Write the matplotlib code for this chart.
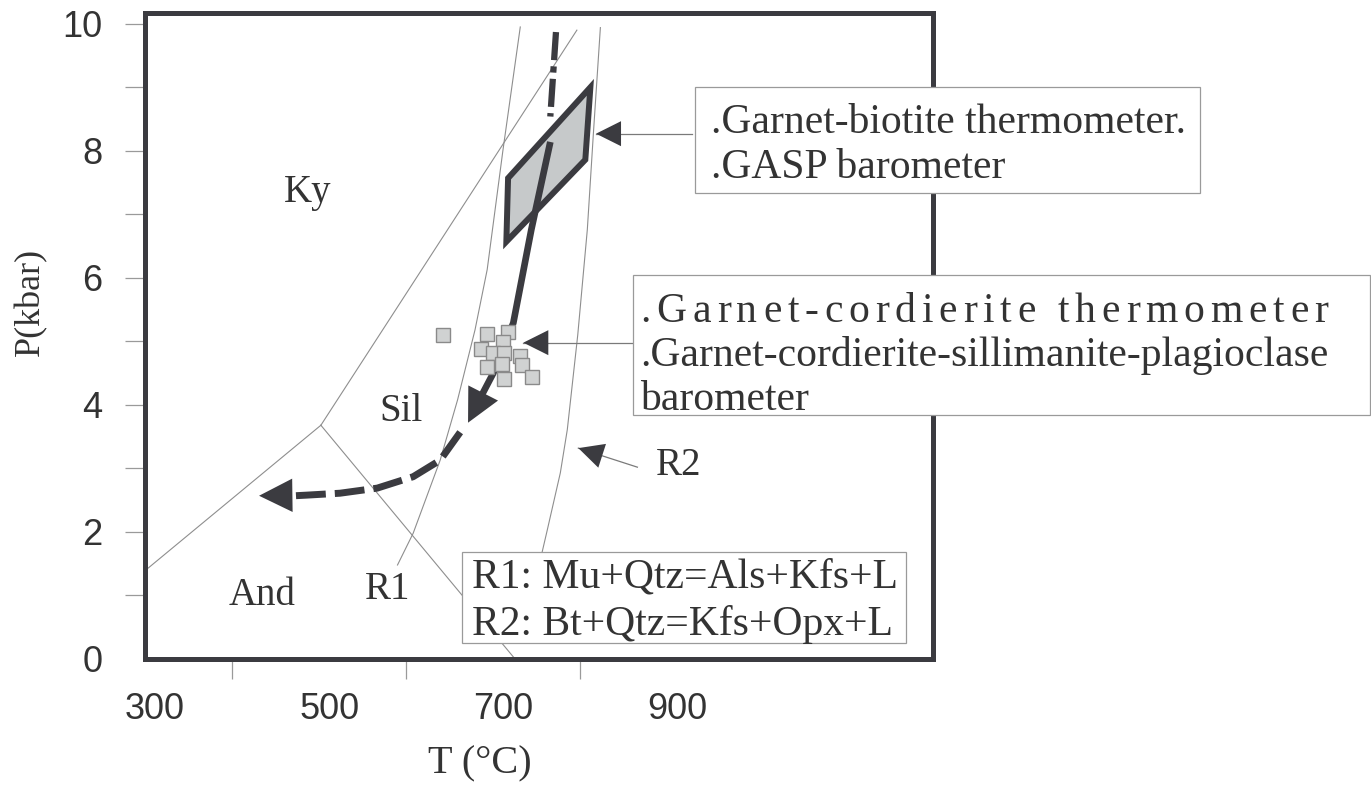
import numpy as np
import matplotlib
matplotlib.use('Agg')
import matplotlib.pyplot as plt
from matplotlib.patches import Polygon, Rectangle
from matplotlib.transforms import ScaledTranslation
from matplotlib import font_manager
from matplotlib.ft2font import FT2Font

# ---- data (T in degC, P in kbar) ----
# Al2SiO5 phase boundaries
ky_and_T = [300, 502]
ky_and_P = [1.39, 3.68]
ky_sil_T = [502, 796]
ky_sil_P = [3.68, 9.90]
and_sil_T = [502, 725]
and_sil_P = [3.68, 0.00]

# reaction curves
r1_T = [590, 608, 639, 659, 679, 693, 711, 731]
r1_P = [1.48, 1.98, 3.13, 4.08, 5.18, 6.13, 8.00, 9.95]
r2_T = [753, 762, 777, 785, 797, 808, 815, 823]
r2_P = [1.50, 2.03, 2.93, 3.61, 5.10, 6.76, 8.28, 9.94]

# P-T path
path_top_T = [772, 765.5]
path_top_P = [9.87, 8.54]
path_mid_T = [765.5, 743.7, 723, 700, 687]
path_mid_P = [8.14, 6.76, 5.29, 4.50, 4.16]
path_low_T = [662, 639, 608, 566.7, 524, 486, 472]
path_low_P = [3.57, 3.13, 2.87, 2.69, 2.61, 2.58, 2.57]
arrow1_tip = (671, 3.72)
arrow2_tip = (431, 2.57)

# garnet-biotite / GASP field
gb_T = [715, 717, 811.5, 805.7]
gb_P = [6.57, 7.57, 9.00, 7.86]

# garnet-cordierite estimates
gc_T = [642.5, 693, 717, 711.5, 686, 700, 712.6, 731, 693, 710, 733, 712.6, 745]
gc_P = [5.10, 5.12, 5.15, 4.99, 4.88, 4.82, 4.82, 4.77, 4.60, 4.65, 4.63, 4.41, 4.44]

x_ticks = [300, 500, 700, 900]
x_minor = [400, 500, 600, 700, 800, 900]
y_ticks = [0, 2, 4, 6, 8, 10]
y_minor = [1, 3, 5, 7, 9]

dark = '#3b3b40'
thin = '#8e8e8e'
txt = '#333333'
serif = ['Liberation Serif', 'DejaVu Serif']
sans = ['Liberation Sans', 'DejaVu Sans']

fig = plt.figure(figsize=(13.71, 7.89), dpi=100)
ax = fig.add_axes([0.10576, 0.16477, 0.57476, 0.81876])
ax.set_xlim(300, 1205)
ax.set_ylim(0, 10.17)

for s in ax.spines.values():
    s.set_linewidth(3.6)
    s.set_color(dark)
    s.set_capstyle('projecting')

ax.set_xticks(x_ticks)
ax.set_xticklabels([str(v) for v in x_ticks], fontfamily=sans, fontsize=26, color=txt)
ax.set_xticks(x_minor, minor=True)
ax.tick_params(axis='x', which='major', length=0, pad=24)
ax.tick_params(axis='x', which='minor', length=14.5, width=0.9, color='#9a9a9a')
for lab in ax.get_xticklabels():
    lab.set_transform(lab.get_transform() + ScaledTranslation(0.1, 0, fig.dpi_scale_trans))
ax.set_yticks(y_ticks)
ax.set_yticklabels([str(v) for v in y_ticks], fontfamily=sans, fontsize=26, color=txt)
ax.set_yticks(y_minor, minor=True)
ax.tick_params(axis='y', which='both', length=14.5, width=0.9, color='#9a9a9a', pad=16)
ax.yaxis.get_major_ticks()[0].tick1line.set_visible(False)

ax.set_xlabel('T (°C)', fontfamily=serif, fontsize=29, color=txt)
ax.xaxis.set_label_coords(0.425, -0.133)
ax.set_ylabel('P(kbar)', fontfamily=serif, fontsize=26, color=txt)
ax.yaxis.set_label_coords(-0.124, 0.553)

# phase boundaries and reactions
for T, P in [(ky_and_T, ky_and_P), (ky_sil_T, ky_sil_P), (and_sil_T, and_sil_P),
             (r1_T, r1_P), (r2_T, r2_P)]:
    ax.plot(T, P, color=thin, lw=0.8, zorder=1)

# GB-GASP field
ax.add_patch(Polygon(np.column_stack([gb_T, gb_P]), closed=True, facecolor='#c6c9ca',
                     edgecolor=dark, lw=4.3, joinstyle='miter', zorder=3))

# P-T path
ax.plot(path_top_T, path_top_P, color=dark, lw=4.5, ls=(0, (4.5, 1.0, 1.0, 1.0)),
        solid_capstyle='butt', zorder=4)
ax.plot(path_mid_T, path_mid_P, color=dark, lw=4.8, solid_capstyle='butt', zorder=4)
ax.plot(path_low_T, path_low_P, color=dark, lw=5, ls=(0, (4.3, 1.3)), zorder=4)
head = dict(arrowstyle='-|>,head_length=0.6,head_width=0.3', mutation_scale=40,
            color=dark, lw=0, shrinkA=0, shrinkB=0)
ax.annotate('', xy=arrow1_tip, xytext=(path_mid_T[-2], path_mid_P[-2]), arrowprops=head, zorder=5)
ax.annotate('', xy=arrow2_tip, xytext=(path_low_T[-2], path_low_P[-2]), arrowprops=head, zorder=5)

# garnet-cordierite points
ax.plot(gc_T, gc_P, 's', ms=10, mfc='#d0d2d2', mec='#8a8a8a', mew=1, zorder=6)

# region labels
for s, T, P in [('Ky', 487, 7.34), ('Sil', 594, 3.89), ('And', 434.5, 1.0),
                ('R1', 579, 1.10), ('R2', 912.6, 3.04)]:
    ax.text(T, P, s, fontfamily=serif, fontsize=28, color=txt, ha='center', va='center')

# pointer arrows
small = dict(arrowstyle='-|>,head_length=0.9,head_width=0.45', mutation_scale=20,
             color=dark, lw=0, shrinkA=0, shrinkB=0)
for tail, tip in [((928.7, 8.27), (818, 8.27)), ((860, 4.98), (734.5, 4.98)),
                  ((865.5, 3.02), (797.7, 3.32))]:
    ax.plot([tail[0], tip[0]], [tail[1], tip[1]], color='#7a7a7a', lw=0.9, zorder=6,
            clip_on=False)
    ax.annotate('', xy=tip, xytext=tail, arrowprops=small, zorder=7, annotation_clip=False)

# text boxes
box_kw = dict(facecolor='white', edgecolor='#9a9a9a', lw=0.9, clip_on=False, zorder=8)
ax.add_patch(Rectangle((932, 7.33), 580, 1.67, **box_kw))
ax.add_patch(Rectangle((860, 3.84), 847, 2.21, **box_kw))
ax.add_patch(Rectangle((664, 0.25), 509.6, 1.44, **box_kw))

ax.text(950, 8.28, '.Garnet-biotite thermometer.', fontfamily=serif, fontsize=30,
        color=txt, va='baseline', zorder=9, clip_on=False)
ax.text(950, 7.57, '.GASP barometer', fontfamily=serif, fontsize=30,
        color=txt, va='baseline', zorder=9, clip_on=False)

fs2 = 30
line1 = '.Garnet-cordierite thermometer'
line2 = '.Garnet-cordierite-sillimanite-plagioclase'
ft = FT2Font(font_manager.findfont(font_manager.FontProperties(family='Liberation Serif')))
ft.set_size(fs2, fig.dpi)


def adv(s):
    return [ft.load_char(ord(c)).linearHoriAdvance / 65536 for c in s]


target = sum(adv(line2))
a1 = adv(line1)
extra = (target - sum(a1)) / (len(line1) - 1)
x = 0.0
for c, w in zip(line1, a1):
    if c != ' ':
        tr = ax.transData + ScaledTranslation(x / fig.dpi, 0, fig.dpi_scale_trans)
        ax.text(869, 5.31, c, transform=tr, fontfamily=serif, fontsize=fs2, color=txt,
                va='baseline', zorder=9, clip_on=False)
    x += w + extra
ax.text(869, 4.61, line2, fontfamily=serif, fontsize=fs2, color=txt, va='baseline',
        zorder=9, clip_on=False)
ax.text(869, 3.92, 'barometer', fontfamily=serif, fontsize=fs2, color=txt, va='baseline',
        zorder=9, clip_on=False)

ax.text(676, 1.12, 'R1: Mu+Qtz=Als+Kfs+L', fontfamily=serif, fontsize=30, color=txt,
        va='baseline', zorder=9)
ax.text(676, 0.38, 'R2: Bt+Qtz=Kfs+Opx+L', fontfamily=serif, fontsize=30, color=txt,
        va='baseline', zorder=9)

fig.savefig('out.png', dpi=100)
